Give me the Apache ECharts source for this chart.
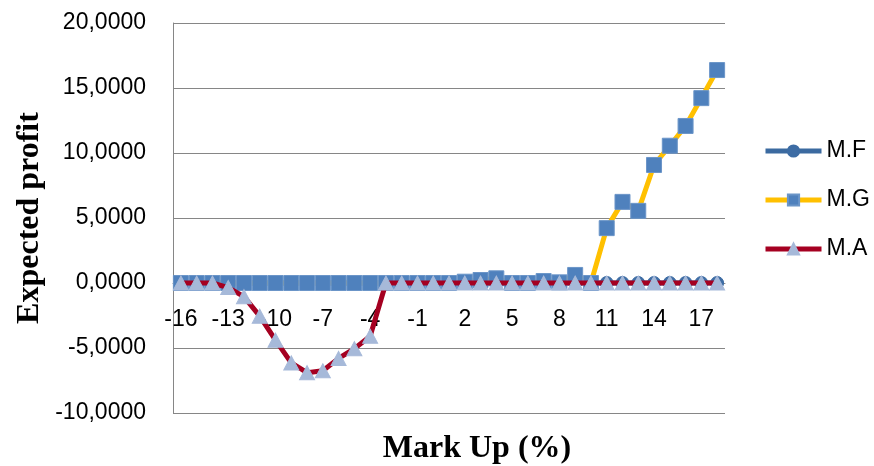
<!DOCTYPE html>
<html>
<head>
<meta charset="utf-8">
<script src="https://cdn.jsdelivr.net/npm/echarts@6/dist/echarts.min.js"></script>
<style>
  html, body { margin: 0; padding: 0; background: #fff; }
  #chart { width: 874px; height: 466px; }
</style>
</head>
<body>
<div id="chart"></div>
<script>
// Mark-up percentages on the category axis
var markUp = [-16, -15, -14, -13, -12, -11, -10, -9, -8, -7, -6, -5, -4, -3, -2, -1, 0, 1,
              2, 3, 4, 5, 6, 7, 8, 9, 10, 11, 12, 13, 14, 15, 16, 17, 18];

// Expected profit per method
var seriesMF = [0, 0, 0, 0, 0, 0, 0, 0, 0, 0, 0, 0, 0, 0, 0, 0, 0, 0,
                0, 0, 0, 0, 0, 0, 0, 0, 0, 0, 0, 0, 0, 0, 0, 0, 0];
var seriesMG = [0, 0, 0, 0, 0, 0, 0, 0, 0, 0, 0, 0, 0, 0, 0, 0, 0, 0,
                0.1, 0.23, 0.36, 0, 0, 0.15, 0.05, 0.62, 0, 4.22, 6.24, 5.55, 9.08, 10.56, 12.08, 14.22, 16.38];
var seriesMA = [0, 0, 0, -0.35, -1.05, -2.55, -4.4, -6.15, -6.9, -6.75, -5.8, -5.05, -4.1, 0, 0, 0, 0, 0,
                0, 0, 0, 0, 0, 0, 0, 0, 0, 0, 0, 0, 0, 0, 0, 0, 0];

// Value axis ticks
var yMin = -10, yMax = 20, yStep = 5;

var sansFont = 'Liberation Sans';
var serifFont = 'Liberation Serif';

var gridTop = 23, gridBottom = 53, chartHeight = 466;

function fmt(v) {
  return v.toFixed(4).replace('.', ',');
}

// The category axis sits on the zero line of the value axis
var plotHeight = chartHeight - gridTop - gridBottom;
var zeroOffset = -plotHeight * (0 - yMin) / (yMax - yMin);

var chart = echarts.init(document.getElementById('chart'), null, { renderer: 'canvas' });

chart.setOption({
  animation: false,
  backgroundColor: '#ffffff',
  grid: { left: 173, right: 149, top: gridTop, bottom: gridBottom, containLabel: false },
  legend: {
    orient: 'vertical',
    left: 763,
    top: 139,
    padding: 0,
    itemWidth: 56,
    itemHeight: 14,
    itemGap: 25,
    lineStyle: { width: 5 },
    textStyle: { fontFamily: sansFont, fontSize: 23, color: '#000', lineHeight: 24 },
    data: ['M.F', 'M.G', 'M.A']
  },
  xAxis: {
    type: 'category',
    data: markUp.map(String),
    boundaryGap: true,
    offset: zeroOffset,
    axisLine: { onZero: false, lineStyle: { color: '#868686', width: 1 } },
    axisTick: { show: false },
    axisLabel: { interval: 2, fontFamily: sansFont, fontSize: 23, color: '#000', margin: 25 },
    splitLine: { show: false }
  },
  yAxis: {
    type: 'value',
    min: yMin,
    max: yMax,
    interval: yStep,
    axisLine: { show: true, lineStyle: { color: '#868686', width: 1 } },
    axisTick: { show: false },
    axisLabel: { formatter: fmt, fontFamily: sansFont, fontSize: 23, color: '#000', margin: 27 },
    splitLine: { show: true, lineStyle: { color: '#868686', width: 1 } }
  },
  graphic: [
    {
      type: 'text',
      x: 477, y: 449,
      style: {
        text: 'Mark Up (%)', fontFamily: serifFont, fontWeight: 'bold', fontSize: 32,
        fill: '#000', align: 'center', verticalAlign: 'middle'
      }
    },
    {
      type: 'text',
      x: 30, y: 218,
      rotation: Math.PI / 2,
      style: {
        text: 'Expected profit', fontFamily: serifFont, fontWeight: 'bold', fontSize: 32,
        fill: '#000', align: 'center', verticalAlign: 'middle'
      }
    }
  ],
  series: [
    {
      name: 'M.F',
      type: 'line',
      z: 2,
      data: seriesMF,
      symbol: 'circle',
      symbolSize: 13,
      showAllSymbol: true,
      lineStyle: { color: '#3B6AA0', width: 5 },
      itemStyle: { color: '#3D6CA4', borderColor: '#3D6CA4', borderWidth: 1 }
    },
    {
      name: 'M.G',
      type: 'line',
      z: 3,
      data: seriesMG,
      symbol: 'rect',
      symbolSize: 15,
      showAllSymbol: true,
      lineStyle: { color: '#FFC000', width: 5 },
      itemStyle: { color: '#4F81BD', borderColor: '#6B95C8', borderWidth: 1 }
    },
    {
      name: 'M.A',
      type: 'line',
      z: 4,
      data: seriesMA,
      symbol: 'triangle',
      symbolSize: [15, 14],
      showAllSymbol: true,
      lineStyle: { color: '#A50021', width: 5 },
      itemStyle: { color: '#A6B9D9', borderColor: '#A6B9D9', borderWidth: 1 }
    }
  ]
});
</script>
</body>
</html>
